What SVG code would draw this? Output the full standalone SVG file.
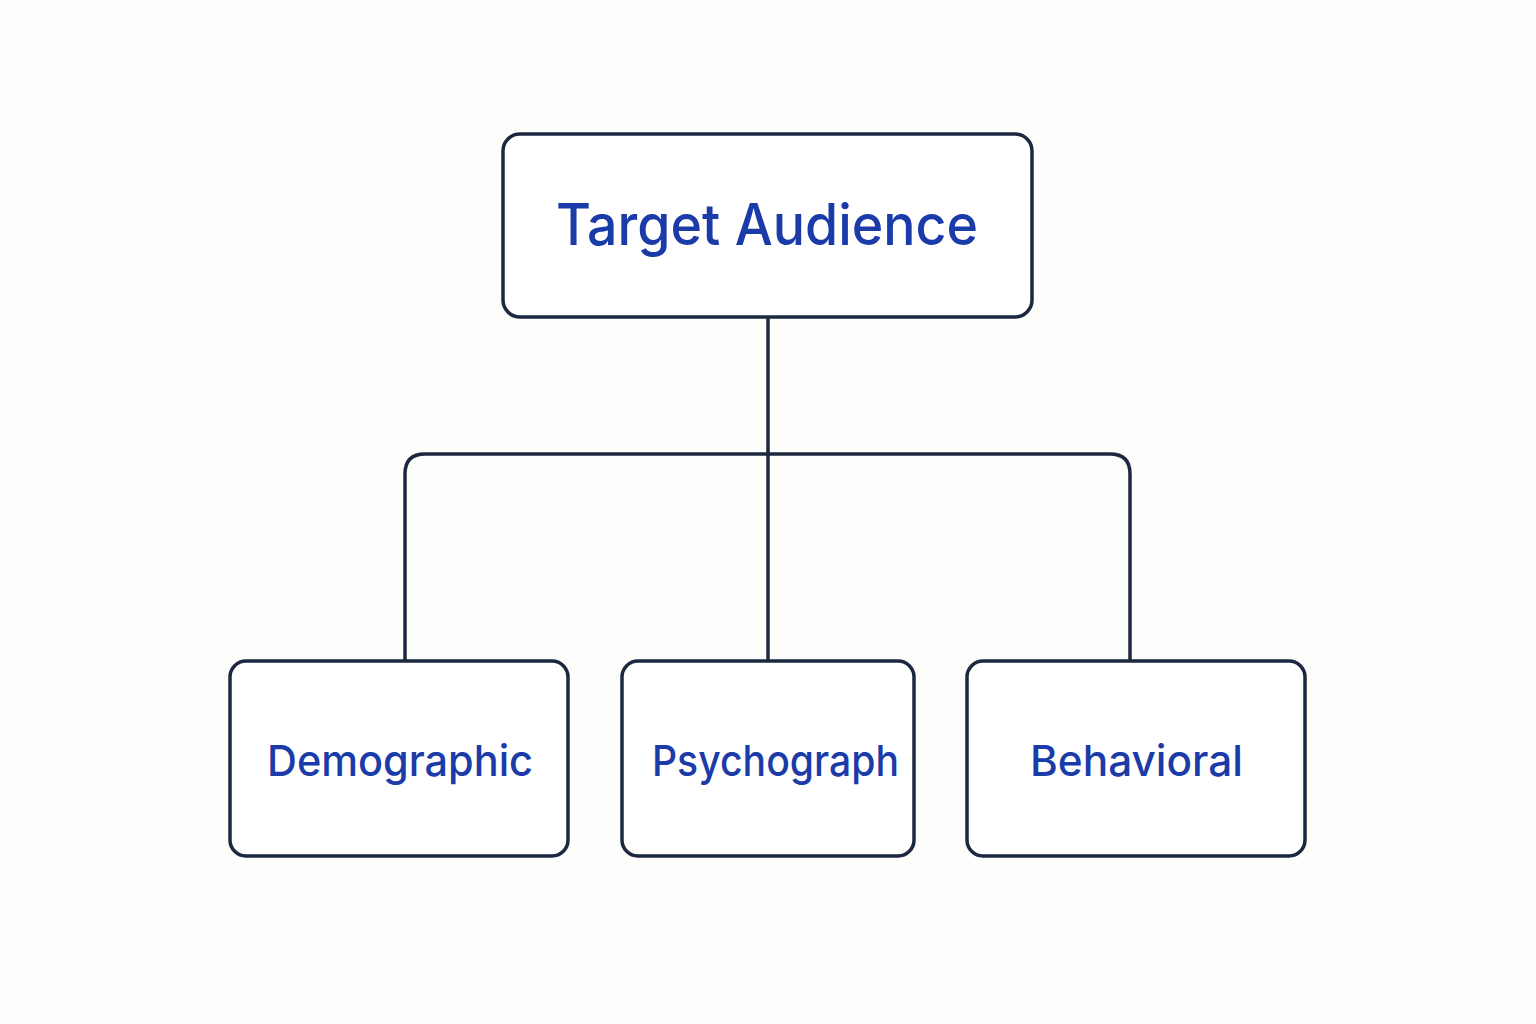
<svg xmlns="http://www.w3.org/2000/svg" width="1536" height="1024" viewBox="0 0 1536 1024">
<style>
.box{fill:#ffffff;stroke:#1c2740;stroke-width:3.5}
.conn{fill:none;stroke:#1c2740;stroke-width:3.5}
.lbl{font-family:Inter,Roboto,"Liberation Sans",sans-serif;fill:#1a3ba8;font-weight:500}
</style>
<rect x="0" y="0" width="1536" height="1024" fill="#fdfdfb"/>
<g id="connectors">
<path class="conn" d="M768 317 V661"/>
<path class="conn" d="M405 661 V474 Q405 454 425 454 H1110 Q1130 454 1130 474 V661"/>
</g>
<g id="node-target">
<rect class="box" x="503" y="134" width="529" height="183" rx="17"/>
<text class="lbl" x="767" y="245" font-size="57" text-anchor="middle" textLength="422" lengthAdjust="spacingAndGlyphs">Target Audience</text>
</g>
<g id="node-demographic">
<rect class="box" x="230" y="661" width="338" height="195" rx="16"/>
<text class="lbl" x="400" y="776" font-size="43" text-anchor="middle" textLength="266" lengthAdjust="spacingAndGlyphs">Demographic</text>
</g>
<g id="node-psychograph">
<rect class="box" x="622" y="661" width="292" height="195" rx="16"/>
<text class="lbl" x="775.5" y="776" font-size="43" text-anchor="middle" textLength="247" lengthAdjust="spacingAndGlyphs">Psychograph</text>
</g>
<g id="node-behavioral">
<rect class="box" x="967" y="661" width="338" height="195" rx="16"/>
<text class="lbl" x="1136.5" y="776" font-size="43" text-anchor="middle" textLength="213" lengthAdjust="spacingAndGlyphs">Behavioral</text>
</g>
</svg>
